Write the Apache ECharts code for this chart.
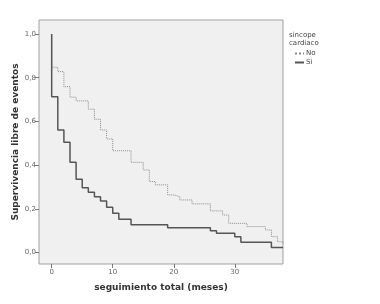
<!DOCTYPE html>
<html>
<head>
<meta charset="utf-8">
<script src="https://cdn.jsdelivr.net/npm/echarts@6/dist/echarts.min.js"></script>
<style>
html,body{margin:0;padding:0;background:#fff;}
#main{width:380px;height:304px;}
</style>
</head>
<body>
<div id="main"></div>
<script>
// curvas de Kaplan-Meier [meses, supervivencia]
var sincopeNo = [
    [0, 1.0], [0, 0.848], [1, 0.828], [2, 0.759], [3, 0.711], [4, 0.694],
    [6, 0.656], [7, 0.61], [8, 0.561], [9, 0.52], [10, 0.466], [13, 0.413],
    [15, 0.378], [16, 0.325], [17, 0.31], [19, 0.264], [20, 0.256], [21, 0.241],
    [23, 0.223], [26, 0.191], [28, 0.172], [29, 0.134], [32, 0.119], [35, 0.104],
    [36, 0.073], [37, 0.05], [37.9, 0.04]
];
var sincopeSi = [
    [0, 1.0], [0, 0.713], [1, 0.561], [2, 0.505], [3, 0.413], [4, 0.336],
    [5, 0.297], [6, 0.276], [7, 0.256], [8, 0.236], [9, 0.207], [10, 0.18],
    [11, 0.153], [13, 0.127], [19, 0.114], [26, 0.1], [27, 0.089], [30, 0.073],
    [31, 0.048], [36, 0.023], [37.9, 0.023]
];
var xTicks = [0, 10, 20, 30];
var yTicks = [0, 0.2, 0.4, 0.6, 0.8, 1.0];

var myChart = echarts.init(document.getElementById('main'));
var option = {
    animation: false,
    title: {
        text: 'sincope\ncardiaco',
        left: 284, top: 26,
        textStyle: {color: '#444', fontSize: 7, fontWeight: 'normal', lineHeight: 8, fontFamily: 'DejaVu Sans'}
    },
    legend: {
        left: 289, top: 45,
        orient: 'vertical',
        itemWidth: 9, itemHeight: 6, itemGap: 2,
        itemStyle: {opacity: 0},
        textStyle: {color: '#444', fontSize: 7, fontFamily: 'DejaVu Sans', padding: [0, 0, 0, -3]},
        data: ['No', 'Si']
    },
    grid: {
        left: 39, top: 20, width: 244, height: 244,
        show: true, backgroundColor: '#f0f0f0', borderColor: '#a0a0a0', borderWidth: 1
    },
    xAxis: {
        type: 'value', min: -2.08, max: 37.9,
        name: 'seguimiento total (meses)', nameLocation: 'middle', nameGap: 19,
        nameMoveOverlap: false,
        nameTextStyle: {color: '#333', fontSize: 9, fontWeight: 'bold', fontFamily: 'DejaVu Sans'},
        axisLine: {show: false, onZero: false},
        splitLine: {show: false},
        axisTick: {show: true, length: 4, lineStyle: {color: '#777'}, customValues: xTicks},
        axisLabel: {color: '#666', fontSize: 7, margin: 5, fontFamily: 'DejaVu Sans', customValues: xTicks}
    },
    yAxis: {
        type: 'value', min: -0.052, max: 1.064,
        name: 'Supervivencia libre de eventos', nameLocation: 'middle', nameGap: 19,
        nameMoveOverlap: false,
        nameTextStyle: {color: '#333', fontSize: 9, fontWeight: 'bold', fontFamily: 'DejaVu Sans'},
        axisLine: {show: false, onZero: false},
        splitLine: {show: false},
        axisTick: {show: true, length: 4, lineStyle: {color: '#777'}, customValues: yTicks},
        axisLabel: {
            color: '#666', fontSize: 7, margin: 3, fontFamily: 'DejaVu Sans', customValues: yTicks,
            formatter: function (v) { return v.toFixed(1).replace('.', ','); }
        }
    },
    series: [
        {
            name: 'No', type: 'line', step: 'end', data: sincopeNo,
            showSymbol: false, symbol: 'none',
            lineStyle: {color: '#8c8c8c', width: 1, type: 'dotted'},
            itemStyle: {color: '#8c8c8c'}
        },
        {
            name: 'Si', type: 'line', step: 'end', data: sincopeSi,
            showSymbol: false, symbol: 'none',
            lineStyle: {color: '#555555', width: 1.5},
            itemStyle: {color: '#555555'}
        }
    ]
};
myChart.setOption(option);
</script>
</body>
</html>
